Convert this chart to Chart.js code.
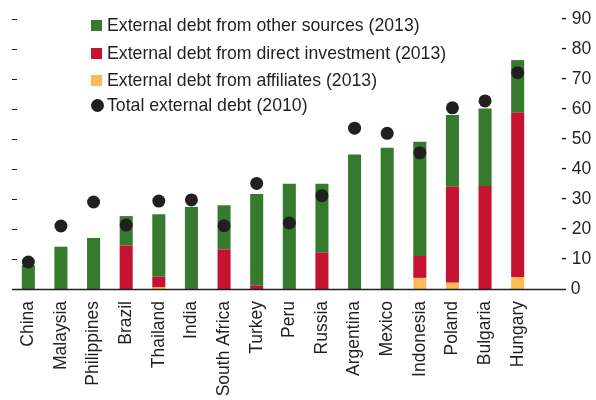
<!DOCTYPE html>
<html>
<head>
<meta charset="utf-8">
<script src="https://cdn.jsdelivr.net/npm/chart.js@4.4.1/dist/chart.umd.min.js"></script>
<style>
  html, body { margin: 0; padding: 0; background: #fff; }
  #wrap { position: relative; width: 596px; height: 400px; }
  #legend { position: absolute; left: 91px; top: 12px; font-family: 'Liberation Sans', Arial, sans-serif; font-size: 17.7px; color: #231f20; }
  #legend .row { display: flex; align-items: center; height: 27.5px; white-space: nowrap; }
  #legend .box { width: 11px; height: 11px; margin-right: 5px; flex: none; }
  #legend .dot { width: 13px; height: 13px; border-radius: 50%; margin-right: 3px; flex: none; }
</style>
</head>
<body>
<div id="wrap">
  <canvas id="debtChart" width="596" height="400"></canvas>
  <div id="legend"></div>
</div>
<script>
const countries = ['China', 'Malaysia', 'Philippines', 'Brazil', 'Thailand', 'India', 'South Africa', 'Turkey',
    'Peru', 'Russia', 'Argentina', 'Mexico', 'Indonesia', 'Poland', 'Bulgaria', 'Hungary'];

// 2013, percent of GDP
const fromAffiliates = [0, 0, 0, 0, 0.5, 0, 0, 0, 0, 0, 0, 0, 3.7, 2.1, 0, 4];
const fromDirectInvestment = [0, 0, 0, 14.5, 3.6, 0, 13.2, 1.1, 0, 12.1, 0, 0, 7.3, 32, 34.3, 54.8];
const fromOtherSources = [8, 14.1, 17, 9.8, 20.8, 27.3, 14.7, 30.6, 35.1, 23, 44.8, 47.1, 38.1, 23.9, 25.9, 17.5];

// 2010
const totalDebt2010 = [9, 21, 29, 21.3, 29.3, 29.7, 21.1, 35.2, 22, 31.1, 53.6, 51.9, 45.4, 60.4, 62.7, 72.1];

const yTicks = [0, 10, 20, 30, 40, 50, 60, 70, 80, 90];

const GREEN = '#367a2d';
const RED = '#c41230';
const YELLOW = '#fdbb57';
const DOT = '#231f20';
const FONT = "'Liberation Sans', Arial, sans-serif";

document.addEventListener('DOMContentLoaded', function() {
    // Extended baseline and little left-hand tick marks
    const axisExtras = {
        id: 'axisExtras',
        afterDatasetsDraw(chart) {
            const ctx = chart.ctx;
            const area = chart.chartArea;
            const y = chart.scales.y;
            ctx.save();
            ctx.strokeStyle = '#231f20';
            ctx.lineWidth = 1;
            yTicks.forEach(function(v) {
                if (v === 0) return;
                const py = Math.round(y.getPixelForValue(v)) + 0.5;
                ctx.beginPath();
                ctx.moveTo(area.left, py);
                ctx.lineTo(area.left + 5, py);
                ctx.stroke();
            });
            const base = Math.round(y.getPixelForValue(0)) + 0.5;
            ctx.lineWidth = 1.5;
            ctx.beginPath();
            ctx.moveTo(area.left, base);
            ctx.lineTo(area.right + 32, base);
            ctx.stroke();
            ctx.restore();
        }
    };

    const ctx = document.getElementById('debtChart').getContext('2d');
    const chart = new Chart(ctx, {
        type: 'bar',
        data: {
            labels: countries,
            datasets: [
                {
                    type: 'line',
                    label: 'Total external debt (2010)',
                    data: totalDebt2010,
                    showLine: false,
                    pointRadius: 6.5,
                    pointBackgroundColor: DOT,
                    pointBorderWidth: 0,
                    stack: 'dots',
                    order: 0
                },
                {
                    label: 'External debt from affiliates (2013)',
                    data: fromAffiliates,
                    backgroundColor: YELLOW,
                    stack: 'bars',
                    order: 1
                },
                {
                    label: 'External debt from direct investment (2013)',
                    data: fromDirectInvestment,
                    backgroundColor: RED,
                    stack: 'bars',
                    order: 1
                },
                {
                    label: 'External debt from other sources (2013)',
                    data: fromOtherSources,
                    backgroundColor: GREEN,
                    stack: 'bars',
                    order: 1
                }
            ]
        },
        options: {
            responsive: false,
            animation: false,
            layout: { padding: { left: 12, right: 0, top: 0, bottom: 0 } },
            datasets: {
                bar: { barPercentage: 0.4, categoryPercentage: 1 }
            },
            plugins: {
                legend: { display: false },
                tooltip: { enabled: false }
            },
            scales: {
                x: {
                    stacked: true,
                    grid: { display: false, drawTicks: false },
                    border: { display: false },
                    afterFit: function(scale) { scale.height = 111; },
                    ticks: {
                        color: '#231f20',
                        font: { family: FONT, size: 17.5 },
                        minRotation: 90,
                        maxRotation: 90,
                        padding: 12,
                        autoSkip: false
                    }
                },
                y: {
                    stacked: true,
                    position: 'right',
                    min: 0,
                    max: 90,
                    grid: { display: false, drawTicks: false },
                    border: { display: false },
                    afterBuildTicks: function(scale) {
                        scale.ticks = yTicks.map(v => ({ value: v }));
                    },
                    afterFit: function(scale) {
                        scale.width = 62;
                        scale.paddingTop = 19;
                        scale.paddingBottom = 0;
                    },
                    ticks: {
                        color: '#231f20',
                        font: { family: FONT, size: 17.5 },
                        padding: 27,
                        callback: function(value) {
                            return value === 0 ? '  0' : '- ' + value;
                        }
                    }
                }
            }
        },
        plugins: [axisExtras]
    });

    // Legend, built from the datasets
    const legendDiv = document.getElementById('legend');
    const legendOrder = [3, 2, 1, 0];
    legendOrder.forEach(function(i) {
        const ds = chart.data.datasets[i];
        const row = document.createElement('div');
        row.className = 'row';
        if (i === 0) row.style.height = '22px';
        const mark = document.createElement('span');
        mark.className = ds.type === 'line' ? 'dot' : 'box';
        mark.style.background = ds.type === 'line' ? ds.pointBackgroundColor : ds.backgroundColor;
        const text = document.createElement('span');
        text.textContent = ds.label;
        row.appendChild(mark);
        row.appendChild(text);
        legendDiv.appendChild(row);
    });
});
</script>
</body>
</html>
